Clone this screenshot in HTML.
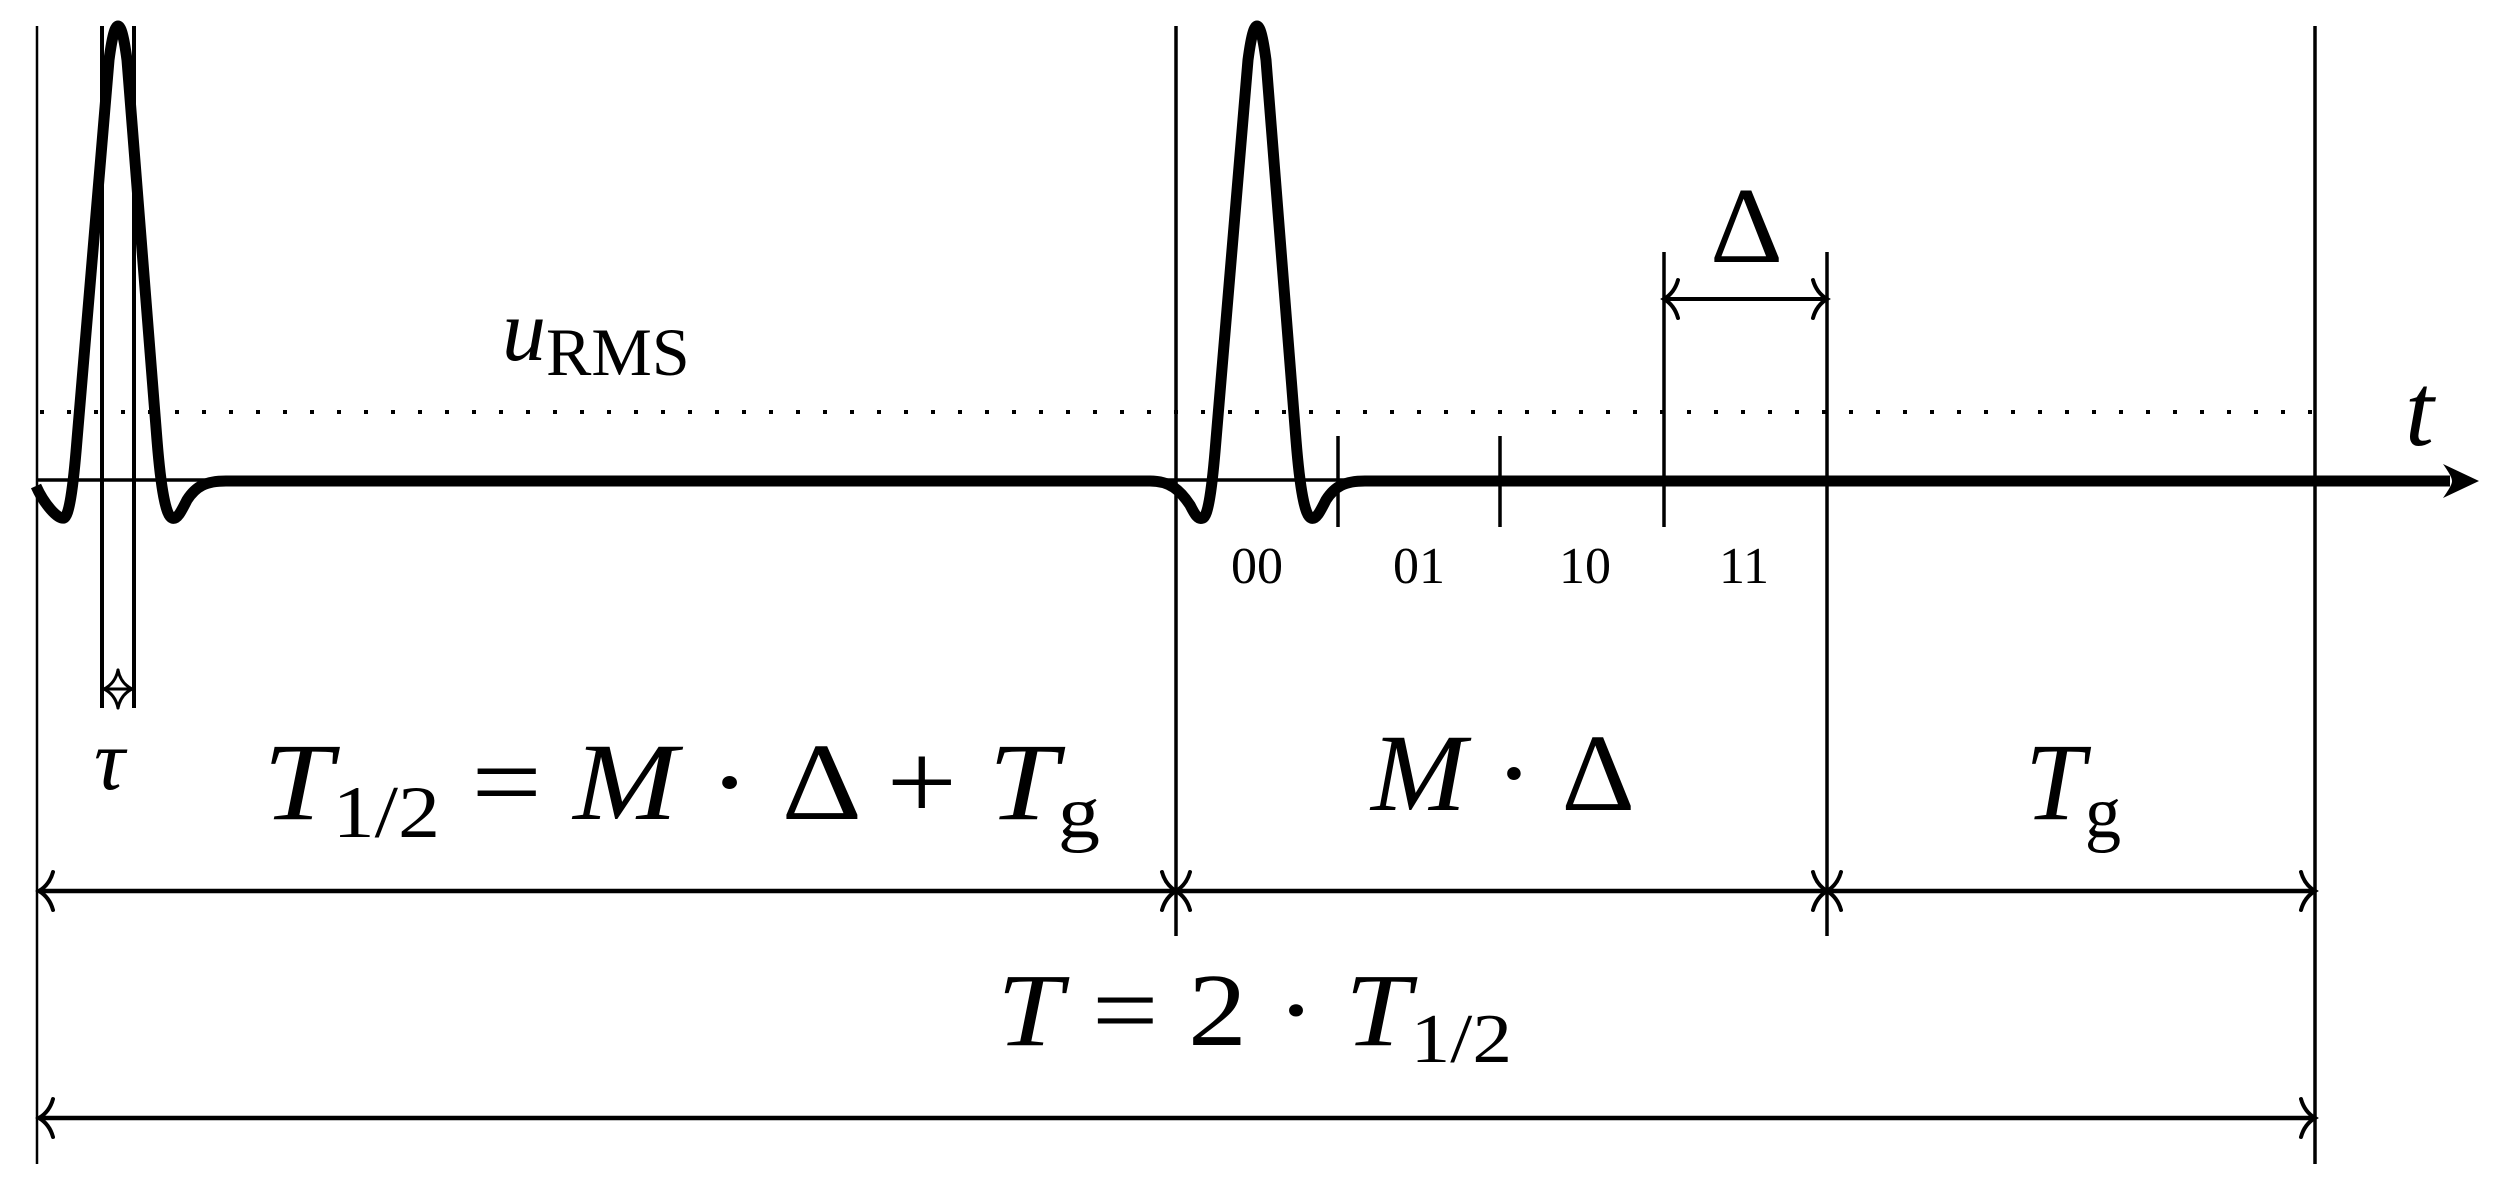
<!DOCTYPE html>
<html><head><meta charset="utf-8"><style>html,body{margin:0;padding:0;background:#fff}svg{display:block}</style></head>
<body>
<svg width="2500" height="1199" viewBox="0 0 2500 1199" xmlns="http://www.w3.org/2000/svg">
<rect width="2500" height="1199" fill="#fff"/>
<g stroke="#000" fill="none" stroke-linecap="butt">
  <!-- verticals -->
  <line x1="37" y1="26" x2="37" y2="1164" stroke-width="2.5"/>
  <line x1="1176" y1="26" x2="1176" y2="936" stroke-width="3.5"/>
  <line x1="2315" y1="26" x2="2315" y2="1164" stroke-width="3.5"/>
  <line x1="102" y1="26" x2="102" y2="708" stroke-width="4"/>
  <line x1="134" y1="26" x2="134" y2="708" stroke-width="4"/>
  <line x1="1338" y1="436" x2="1338" y2="527" stroke-width="3.5"/>
  <line x1="1500" y1="436" x2="1500" y2="527" stroke-width="3.5"/>
  <line x1="1664" y1="252" x2="1664" y2="527" stroke-width="3.5"/>
  <line x1="1827" y1="252" x2="1827" y2="936" stroke-width="3.5"/>
  <!-- dotted RMS -->
  <line x1="40" y1="412" x2="2315" y2="412" stroke-width="4" stroke-dasharray="4 23"/>
  <!-- thin axis -->
  <line x1="37" y1="480" x2="2450" y2="480" stroke-width="3.5"/>
  <!-- signal -->
  <path stroke-width="11" stroke-linejoin="round" d="M36,486 C44,504 58,520 64,518 C69,516 73,490 77,440 L109,60 C113,30 116,26 118,26 C120,26 123,30 127,60 L157,440 C161,490 166,516 172,518 C177,520 181,512 187,500 C196,486 206,481 226,481 L1150,481 C1170,481 1180,490 1190,505 C1195,515 1198,520 1203,518 C1208,516 1212,490 1216,440 L1248,60 C1252,30 1255,26 1257,26 C1259,26 1262,30 1266,60 L1296,440 C1300,490 1305,516 1311,518 C1316,520 1320,512 1326,500 C1335,486 1345,481 1365,481 L2450,481"/>
  <!-- dimension lines -->
  <line x1="39" y1="891" x2="2313" y2="891" stroke-width="4.5"/>
  <line x1="39" y1="1118" x2="2313" y2="1118" stroke-width="4.5"/>
  <line x1="1666" y1="299" x2="1825" y2="299" stroke-width="4"/>
  <line x1="104" y1="689" x2="132" y2="689" stroke-width="3"/>
  <!-- arrowheads -->
  <g stroke-width="4" stroke-linecap="round">
    <path d="M53,872 C50,883 44,888 39,891 C44,894 50,899 53,910"/>
    <path d="M1162,872 C1165,883 1171,888 1176,891 C1171,894 1165,899 1162,910"/>
    <path d="M1190,872 C1187,883 1181,888 1176,891 C1181,894 1187,899 1190,910"/>
    <path d="M1813,872 C1816,883 1822,888 1827,891 C1822,894 1816,899 1813,910"/>
    <path d="M1841,872 C1838,883 1832,888 1827,891 C1832,894 1838,899 1841,910"/>
    <path d="M2301,872 C2304,883 2310,888 2315,891 C2310,894 2304,899 2301,910"/>
    <path d="M53,1099 C50,1110 44,1115 39,1118 C44,1121 50,1126 53,1137"/>
    <path d="M2301,1099 C2304,1110 2310,1115 2315,1118 C2310,1121 2304,1126 2301,1137"/>
    <path d="M1678,280 C1675,291 1669,296 1664,299 C1669,302 1675,307 1678,318"/>
    <path d="M1813,280 C1816,291 1822,296 1827,299 C1822,302 1816,307 1813,318"/>
    <path stroke-width="3" d="M118,670 C116,680 110,686 104,689 C110,692 116,698 118,708"/>
    <path stroke-width="3" d="M118,670 C120,680 126,686 132,689 C126,692 120,698 118,708"/>
  </g>
</g>
<path d="M2479,481 L2443,464 C2450,474 2452,478 2452,481 C2452,484 2450,488 2443,498 Z" fill="#000"/>
<g font-family="Liberation Serif, serif" fill="#000">
  <text x="502" y="360" font-size="88" font-style="italic">u<tspan font-style="normal" font-size="68" dy="15">RMS</tspan></text>
  <text x="1710" y="262" font-size="108" textLength="73" lengthAdjust="spacingAndGlyphs">Δ</text>
  <text x="2405" y="445" font-size="104" font-style="italic">t</text>
  <g font-size="52" text-anchor="middle">
    <text x="1257" y="583">00</text>
    <text x="1419" y="583">01</text>
    <text x="1585" y="583">10</text>
    <text x="1744" y="583">11</text>
  </g>
  <text x="94" y="789" font-size="86" font-style="italic">τ</text>
  <text x="263" y="819" font-size="110" textLength="837" lengthAdjust="spacingAndGlyphs"><tspan font-style="italic">T</tspan><tspan font-size="74" dy="18">1/2</tspan><tspan dy="-18"> = </tspan><tspan font-style="italic">M</tspan><tspan> · Δ + </tspan><tspan font-style="italic">T</tspan><tspan font-size="74" dy="18">g</tspan></text>
  <text x="1371" y="810" font-size="110" textLength="264" lengthAdjust="spacingAndGlyphs"><tspan font-style="italic">M</tspan> · Δ</text>
  <text x="2025" y="819" font-size="110" textLength="96" lengthAdjust="spacingAndGlyphs"><tspan font-style="italic">T</tspan><tspan font-size="74" dy="18">g</tspan></text>
  <text x="997" y="1045" font-size="104" textLength="515" lengthAdjust="spacingAndGlyphs"><tspan font-style="italic">T</tspan> = 2 · <tspan font-style="italic">T</tspan><tspan font-size="70" dy="17">1/2</tspan></text>
</g>
</svg>
</body></html>
